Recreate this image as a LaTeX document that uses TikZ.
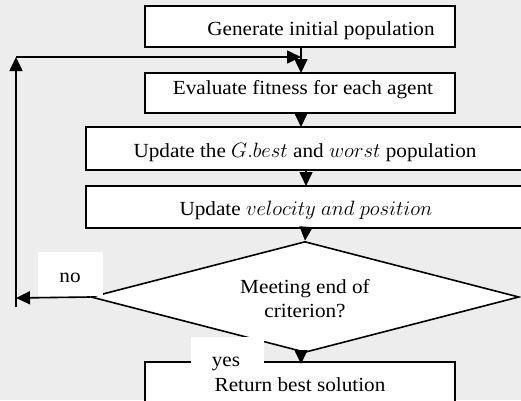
\documentclass[tikz,border=0pt]{standalone}
\usepackage{fontspec}
\setmainfont[FakeStretch=1.06]{Liberation Serif}
\usetikzlibrary{shapes.geometric,arrows.meta}
\begin{document}
\begin{tikzpicture}[x=1pt,y=-1pt,
  box/.style={draw,line width=1.6pt,fill=white,inner sep=0pt},
  lbl/.style={anchor=base,inner sep=0pt,font=\fontsize{20}{24}\selectfont},
  tag/.style={fill=white,inner sep=0pt},
  conn/.style={line width=1.6pt,-{Triangle[width=13pt,length=14pt]}},
  plain/.style={line width=1.6pt}]
\fill[fill={rgb,255:red,237;green,237;blue,237}] (0,0) rectangle (521,400);
\useasboundingbox (0,0) rectangle (521,400);
% boxes
\node[box,minimum width=310pt,minimum height=41pt] (b1) at (300,26.5) {};
\node[box,minimum width=310pt,minimum height=40pt] (b2) at (300,93) {};
\node[box,minimum width=438pt,minimum height=43pt] (b3) at (305,148.5) {};
\node[box,minimum width=438pt,minimum height=42pt] (b4) at (305,207) {};
\node[box,shape=diamond,minimum width=428pt,minimum height=111pt] (d) at (305,297) {};
\node[box,minimum width=310pt,minimum height=50pt] (b5) at (300,387) {};
% texts
\node[lbl] (t1) at (321,35) {Generate initial population};
\node[lbl] (t2) at (303,94) {Evaluate fitness for each agent};
\node[lbl] (t3) at (305,157) {Update the $G.best$ and $worst$ population};
\node[lbl] (t4) at (306,215) {Update $velocity\ and\ position$};
\node[lbl] (t5a) at (305,293) {Meeting end of};
\node[lbl] (t5b) at (305,317) {criterion?};
\node[lbl] (t6) at (300,391) {Return best solution};
% coordinates
\coordinate (fb) at (16,307);
\coordinate (fl) at (16,298);
\coordinate (ft) at (16,57);
\coordinate (fr) at (301,57);
% connectors
\draw[conn] (301,47) -- (301,73);
\draw[conn] (b2.south) ++(1,0) -- (301,127);
\draw[conn] (306,170) -- (306,186);
\draw[conn] (306,228) -- (d.north);
\draw[conn] (d.west) -- (fl);
\draw[conn] (fb) -- (ft);
\draw[conn] (ft) -- (fr);
% tags
\node[tag,minimum width=65pt,minimum height=44pt] (no) at (70.5,274) {};
\node[lbl] (tno) at (70,282) {no};
\node[tag,minimum width=73pt,minimum height=31pt] (yes) at (227.5,352.5) {};
\node[lbl] (tyes) at (226,366) {yes};
\draw[conn] (301,350) -- (301,364);
\end{tikzpicture}
\end{document}
